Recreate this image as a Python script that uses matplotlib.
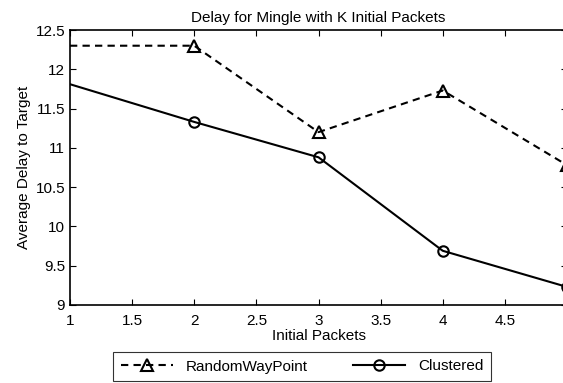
import matplotlib
matplotlib.use("Agg")
import matplotlib.pyplot as plt
from matplotlib.lines import Line2D

plt.rcParams['font.family'] = ['Liberation Sans', 'DejaVu Sans']

x = [1, 2, 3, 4, 5]
random_waypoint = [12.3, 12.3, 11.2, 11.73, 10.78]
clustered = [11.81, 11.33, 10.88, 9.69, 9.23]
xticks = [1, 1.5, 2, 2.5, 3, 3.5, 4, 4.5]
yticks = [9, 9.5, 10, 10.5, 11, 11.5, 12, 12.5]
labels = ["RandomWayPoint", "Clustered"]

fig = plt.figure(figsize=(5.63, 3.83), dpi=100)
ax = fig.add_axes([70/563, 78/383, 497/563, 275/383])

ax.plot(x, random_waypoint, color='black', lw=1.5, ls=(0, (3.5, 2.5)),
        marker='^', ms=8.5, mfc='none', mew=1.5, markevery=[1, 2, 3, 4])
ax.plot(x, clustered, color='black', lw=1.5, ls='-',
        marker='o', ms=7.5, mfc='none', mew=1.5, markevery=[1, 2, 3, 4])

ax.set_xlim(1, 5)
ax.set_ylim(9, 12.5)
ax.set_xticks(xticks)
ax.set_xticklabels([f"{t:g}" for t in xticks])
ax.set_yticks(yticks)
ax.set_yticklabels([f"{t:g}" for t in yticks])
ax.tick_params(direction='in', top=True, right=True, length=4, width=0.8,
               labelsize=11)
ax.tick_params(axis='y', pad=3.5)
ax.tick_params(axis='x', pad=6.5)
for s in ax.spines.values():
    s.set_linewidth(1.2)

ax.set_title("Delay for Mingle with K Initial Packets", fontsize=11, pad=6)
ax.set_xlabel("Initial Packets", fontsize=11, labelpad=1)
ax.set_ylabel("Average Delay to Target", fontsize=11, labelpad=3)

handles = [
    Line2D([], [], color='black', lw=1.5, ls=(0, (3.5, 2.5)), marker='^',
           ms=8.5, mfc='none', mew=1.5),
    Line2D([], [], color='black', lw=1.5, ls='-', marker='o', ms=7.5,
           mfc='none', mew=1.5),
]
leg = fig.legend(handles, labels, ncol=2, loc='center left',
                 bbox_to_anchor=(113/563, 1 - 366.5/383), frameon=True,
                 fancybox=False, edgecolor='black', fontsize=11,
                 handlelength=3.4, columnspacing=3.0, borderpad=0.5,
                 handletextpad=0.85, borderaxespad=0)
leg.get_frame().set_linewidth(0.8)

fig.savefig("out.png", dpi=100)
